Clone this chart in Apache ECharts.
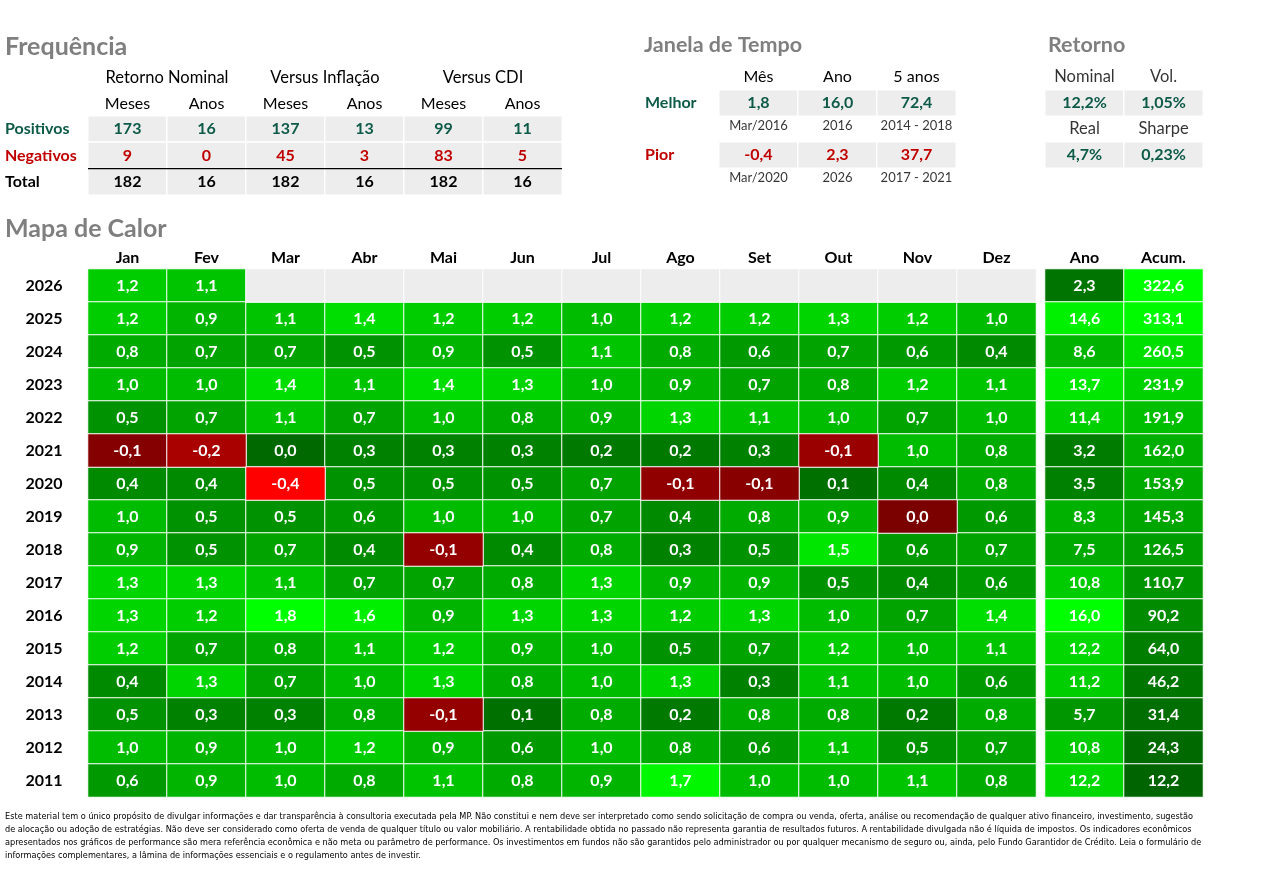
<!DOCTYPE html>
<html><head><meta charset="utf-8">
<script src="https://cdn.jsdelivr.net/npm/echarts@6/dist/echarts.min.js"></script>
<style>html,body{margin:0;padding:0;background:#fff}#c{width:1282px;height:876px}</style>
</head><body><div id="c"></div><script>
// ---------------- DATA ----------------
const meses = ['Jan','Fev','Mar','Abr','Mai','Jun','Jul','Ago','Set','Out','Nov','Dez'];
const anos = ['2026','2025','2024','2023','2022','2021','2020','2019','2018','2017','2016','2015','2014','2013','2012','2011'];
const retornoMensal = [
  [1.2, 1.1, null, null, null, null, null, null, null, null, null, null],
  [1.2, 0.9, 1.1, 1.4, 1.2, 1.2, 1.0, 1.2, 1.2, 1.3, 1.2, 1.0],
  [0.8, 0.7, 0.7, 0.5, 0.9, 0.5, 1.1, 0.8, 0.6, 0.7, 0.6, 0.4],
  [1.0, 1.0, 1.4, 1.1, 1.4, 1.3, 1.0, 0.9, 0.7, 0.8, 1.2, 1.1],
  [0.5, 0.7, 1.1, 0.7, 1.0, 0.8, 0.9, 1.3, 1.1, 1.0, 0.7, 1.0],
  [-0.06, -0.16, 0.02, 0.3, 0.3, 0.3, 0.2, 0.2, 0.3, -0.12, 1.0, 0.8],
  [0.4, 0.4, -0.4, 0.5, 0.5, 0.5, 0.7, -0.09, -0.07, 0.1, 0.4, 0.8],
  [1.0, 0.5, 0.5, 0.6, 1.0, 1.0, 0.7, 0.4, 0.8, 0.9, -0.03, 0.6],
  [0.9, 0.5, 0.7, 0.4, -0.1, 0.4, 0.8, 0.3, 0.5, 1.5, 0.6, 0.7],
  [1.3, 1.3, 1.1, 0.7, 0.7, 0.8, 1.3, 0.9, 0.9, 0.5, 0.4, 0.6],
  [1.3, 1.2, 1.8, 1.6, 0.9, 1.3, 1.3, 1.2, 1.3, 1.0, 0.7, 1.4],
  [1.2, 0.7, 0.8, 1.1, 1.2, 0.9, 1.0, 0.5, 0.7, 1.2, 1.0, 1.1],
  [0.4, 1.3, 0.7, 1.0, 1.3, 0.8, 1.0, 1.3, 0.3, 1.1, 1.0, 0.6],
  [0.5, 0.3, 0.3, 0.8, -0.1, 0.1, 0.8, 0.2, 0.8, 0.8, 0.2, 0.8],
  [1.0, 0.9, 1.0, 1.2, 0.9, 0.6, 1.0, 0.8, 0.6, 1.1, 0.5, 0.7],
  [0.6, 0.9, 1.0, 0.8, 1.1, 0.8, 0.9, 1.7, 1.0, 1.0, 1.1, 0.8]
];
const colunasAnuais = ['Ano','Acum.'];
const retornoAnual = [2.3, 14.6, 8.6, 13.7, 11.4, 3.2, 3.5, 8.3, 7.5, 10.8, 16.0, 12.2, 11.2, 5.7, 10.8, 12.2];
const retornoAcumulado = [322.6, 313.1, 260.5, 231.9, 191.9, 162.0, 153.9, 145.3, 126.5, 110.7, 90.2, 64.0, 46.2, 31.4, 24.3, 12.2];

const freqGrupos = ['Retorno Nominal','Versus Inflação','Versus CDI'];
const freqColunas = ['Meses','Anos','Meses','Anos','Meses','Anos'];
const freqLinhas = ['Positivos','Negativos','Total'];
const freqPositivos = [173, 16, 137, 13, 99, 11];
const freqNegativos = [9, 0, 45, 3, 83, 5];
const freqTotal = [182, 16, 182, 16, 182, 16];

const janelaColunas = ['Mês','Ano','5 anos'];
const janelaLinhas = ['Melhor','Pior'];
const janelaMelhor = [1.8, 16.0, 72.4];
const janelaMelhorPeriodo = ['Mar/2016','2016','2014 - 2018'];
const janelaPior = [-0.4, 2.3, 37.7];
const janelaPiorPeriodo = ['Mar/2020','2026','2017 - 2021'];

const retornoRotulos = [['Nominal','Vol.'], ['Real','Sharpe']];
const retornoValores = [[12.2, 1.05], [4.7, 0.23]];
const retornoDecimais = [1, 2];

const rodape = [
  'Este material tem o único propósito de divulgar informações e dar transparência à consultoria executada pela MP. Não constitui e nem deve ser interpretado como sendo solicitação de compra ou venda, oferta, análise ou recomendação de qualquer ativo financeiro, investimento, sugestão',
  'de alocação ou adoção de estratégias. Não deve ser considerado como oferta de venda de qualquer título ou valor mobiliário. A rentabilidade obtida no passado não representa garantia de resultados futuros. A rentabilidade divulgada não é líquida de impostos. Os indicadores econômicos',
  'apresentados nos gráficos de performance são mera referência econômica e não meta ou parâmetro de performance. Os investimentos em fundos não são garantidos pelo administrador ou por qualquer mecanismo de seguro ou, ainda, pelo Fundo Garantidor de Crédito. Leia o formulário de',
  'informações complementares, a lâmina de informações essenciais e o regulamento antes de investir.'
];

// ---------------- STYLE / LAYOUT ----------------
const FONT = 'Lato, "Noto Sans", sans-serif';
const TEAL = '#0c5a47';
const RED = '#c00000';
const GRAY = '#ededed';
const TITLE = '#7f7f7f';
const CELL_W = 79;
const FS = 16;

const fmt = (v, d) => {
  const r = Math.abs(v) < 0.5 * Math.pow(10, -d) ? 0 : v;
  return r.toFixed(d).replace('.', ',');
};

function catAxis(gridIndex, data, extra) {
  const o = Object.assign({
    type: 'category', gridIndex, data,
    axisLine: { show: false }, axisTick: { show: false }, splitLine: { show: false },
    axisLabel: { fontFamily: FONT, fontSize: FS, color: '#000' }
  }, extra || {});
  o.axisLabel = Object.assign({ interval: 0, hideOverlap: false }, o.axisLabel);
  return o;
}

// monthly heatmap data
const posData = [], negData = [], emptyData = [];
retornoMensal.forEach((row, y) => row.forEach((v, x) => {
  if (v === null) emptyData.push([x, y, 0]);
  else if (v < 0) negData.push([x, y, v]);
  else posData.push([x, y, v]);
}));
const anoData = retornoAnual.map((v, y) => [0, y, v]);
const acumData = retornoAcumulado.map((v, y) => [1, y, v]);

const freqRows = [freqPositivos, freqNegativos, freqTotal];
const freqColors = [TEAL, RED, '#000'];
const freqData = [];
freqRows.forEach((row, r) => row.forEach((v, c) => freqData.push({ value: [c, r, v], label: { color: freqColors[r] } })));

const janelaData = [];
janelaMelhor.forEach((v, c) => janelaData.push({ value: [c, 0, v], label: { color: TEAL } }));
janelaPior.forEach((v, c) => janelaData.push({ value: [c, 2, v], label: { color: RED } }));
const janelaPeriodos = [];
janelaMelhorPeriodo.forEach((t, c) => janelaPeriodos.push({ value: [c, 1], name: t }));
janelaPiorPeriodo.forEach((t, c) => janelaPeriodos.push({ value: [c, 3], name: t }));

const retData = [], retHead = [];
retornoValores.forEach((row, r) => row.forEach((v, c) => retData.push([c, r * 2 + 1, v])));
retornoRotulos.forEach((row, r) => row.forEach((t, c) => retHead.push({ value: [c, r * 2], name: t })));

const cellLabel = (fmtFn, extra) => Object.assign({
  show: true, fontFamily: FONT, fontSize: FS, fontWeight: 'bold', color: '#fff',
  formatter: p => fmtFn(p.value[2])
}, extra || {});

const G_MAIN = { left: 88, top: 269, width: 12 * CELL_W, height: 528 };
const G_ANUAL = { left: 1045, top: 269, width: 2 * CELL_W, height: 528 };
const G_FREQ = { left: 88, top: 116, width: 6 * CELL_W, height: 79 };
const G_JAN = { left: 719, top: 90, width: 3 * CELL_W, height: 104 };
const G_RET = { left: 1045, top: 64, width: 2 * CELL_W, height: 104 };

const titleStyle = { fontFamily: FONT, fontSize: 25, fontWeight: 'bold', color: TITLE };
const subTitleStyle = Object.assign({}, titleStyle, { fontSize: 21.5 });

const option = {
  animation: false,
  backgroundColor: '#fff',
  title: [
    { text: 'Frequência', left: 5, top: 34, padding: 0, textStyle: titleStyle },
    { text: 'Janela de Tempo', left: 644, top: 34, padding: 0, textStyle: subTitleStyle },
    { text: 'Retorno', left: 1048, top: 34, padding: 0, textStyle: subTitleStyle },
    { text: 'Mapa de Calor', left: 5, top: 216, padding: 0, textStyle: titleStyle },
    { text: rodape.join('\n'), left: 5, top: 810, padding: 0,
      textStyle: { fontFamily: '"Liberation Sans Narrow", "DejaVu Sans Condensed", "Arial Narrow", sans-serif', fontSize: 9.1, lineHeight: 13, color: '#000', fontWeight: 'normal' } }
  ],
  grid: [G_MAIN, G_ANUAL, G_FREQ, G_JAN, G_RET],
  xAxis: [
    catAxis(0, meses, { position: 'top', axisLabel: { fontFamily: FONT, fontSize: FS, fontWeight: 'bold', color: '#000', margin: 3 } }),
    catAxis(1, colunasAnuais, { position: 'top', axisLabel: { fontFamily: FONT, fontSize: FS, fontWeight: 'bold', color: '#000', margin: 3 } }),
    catAxis(2, freqColunas.map((_, i) => String(i)), { position: 'top', axisLabel: { fontFamily: FONT, fontSize: FS, color: '#000', margin: 4, formatter: (v, i) => freqColunas[i] } }),
    catAxis(2, freqGrupos, { position: 'top', offset: 26, axisLabel: { fontFamily: FONT, fontSize: 16.5, color: '#000', margin: 4 } }),
    catAxis(3, janelaColunas, { position: 'top', axisLabel: { fontFamily: FONT, fontSize: FS, color: '#000', margin: 5 } }),
    catAxis(4, retornoRotulos[0], { position: 'top', axisLabel: { show: false } })
  ],
  yAxis: [
    catAxis(0, anos, { inverse: true, axisLabel: { fontFamily: FONT, fontSize: FS, fontWeight: 'bold', color: '#000', align: 'center', margin: 44 } }),
    catAxis(1, anos, { inverse: true, axisLabel: { show: false } }),
    catAxis(2, freqLinhas, { inverse: true, axisLabel: { fontFamily: FONT, fontSize: FS, fontWeight: 'bold', align: 'left', margin: 83,
      color: (v) => freqColors[freqLinhas.indexOf(v)] } }),
    catAxis(3, ['Melhor', 'melhorPeriodo', 'Pior', 'piorPeriodo'], { inverse: true, axisLabel: { fontFamily: FONT, fontSize: FS, fontWeight: 'bold', align: 'left', margin: 74,
      formatter: v => (janelaLinhas.indexOf(v) >= 0 ? v : ''),
      color: v => (v === 'Pior' ? RED : TEAL) } }),
    catAxis(4, ['h0', 'v0', 'h1', 'v1'], { inverse: true, axisLabel: { show: false } })
  ],
  visualMap: [
    { type: 'continuous', show: false, seriesIndex: 0, dimension: 2, min: 0, max: 1.8, inRange: { color: ['#006800', '#00ff00'] } },
    { type: 'continuous', show: false, seriesIndex: 1, dimension: 2, min: -0.4, max: 0, inRange: { color: ['#ff0000', '#700000'] } },
    { type: 'continuous', show: false, seriesIndex: 3, dimension: 2, min: 2.3, max: 16.0, inRange: { color: ['#007400', '#00ff00'] } },
    { type: 'continuous', show: false, seriesIndex: 4, dimension: 2, min: 12.2, max: 322.6, inRange: { color: ['#006400', '#00ff00'] } }
  ],
  graphic: [
    { type: 'line', shape: { x1: G_FREQ.left, y1: G_FREQ.top + G_FREQ.height * 2 / 3, x2: G_FREQ.left + G_FREQ.width, y2: G_FREQ.top + G_FREQ.height * 2 / 3 },
      style: { stroke: '#000', lineWidth: 1.3 }, z: 100 }
  ],
  series: [
    { type: 'heatmap', xAxisIndex: 0, yAxisIndex: 0, data: posData, itemStyle: { borderColor: '#fff', borderWidth: 1 }, label: cellLabel(v => fmt(v, 1)), emphasis: { disabled: true } },
    { type: 'heatmap', xAxisIndex: 0, yAxisIndex: 0, data: negData, itemStyle: { borderColor: '#fff', borderWidth: 1 }, label: cellLabel(v => fmt(v, 1)), emphasis: { disabled: true } },
    { type: 'heatmap', xAxisIndex: 0, yAxisIndex: 0, data: emptyData, itemStyle: { color: GRAY, borderColor: '#fff', borderWidth: 1 }, label: { show: false }, emphasis: { disabled: true } },
    { type: 'heatmap', xAxisIndex: 1, yAxisIndex: 1, data: anoData, itemStyle: { borderColor: '#fff', borderWidth: 1 }, label: cellLabel(v => fmt(v, 1)), emphasis: { disabled: true } },
    { type: 'heatmap', xAxisIndex: 1, yAxisIndex: 1, data: acumData, itemStyle: { borderColor: '#fff', borderWidth: 1 }, label: cellLabel(v => fmt(v, 1)), emphasis: { disabled: true } },
    { type: 'heatmap', xAxisIndex: 2, yAxisIndex: 2, data: freqData, itemStyle: { color: GRAY, borderColor: '#fff', borderWidth: 1.5 }, label: cellLabel(v => String(v)), emphasis: { disabled: true } },
    { type: 'heatmap', xAxisIndex: 4, yAxisIndex: 3, data: janelaData, itemStyle: { color: GRAY, borderColor: '#fff', borderWidth: 1.5 }, label: cellLabel(v => fmt(v, 1)), emphasis: { disabled: true } },
    { type: 'scatter', xAxisIndex: 4, yAxisIndex: 3, data: janelaPeriodos, symbolSize: 0, silent: true,
      label: { show: true, position: 'inside', offset: [0, -3], fontFamily: FONT, fontSize: 13, color: '#000', formatter: p => p.name } },
    { type: 'heatmap', xAxisIndex: 5, yAxisIndex: 4, data: retData, itemStyle: { color: GRAY, borderColor: '#fff', borderWidth: 1.5 },
      label: cellLabel(v => v, { color: TEAL, formatter: p => fmt(p.value[2], retornoDecimais[p.value[0]]) + '%' }), emphasis: { disabled: true } },
    { type: 'scatter', xAxisIndex: 5, yAxisIndex: 4, data: retHead, symbolSize: 0, silent: true,
      label: { show: true, position: 'inside', fontFamily: FONT, fontSize: 16.5, color: '#000', formatter: p => p.name } }
  ]
};

const chart = echarts.init(document.getElementById('c'), null, { renderer: 'canvas' });
chart.setOption(option);
</script></body></html>
